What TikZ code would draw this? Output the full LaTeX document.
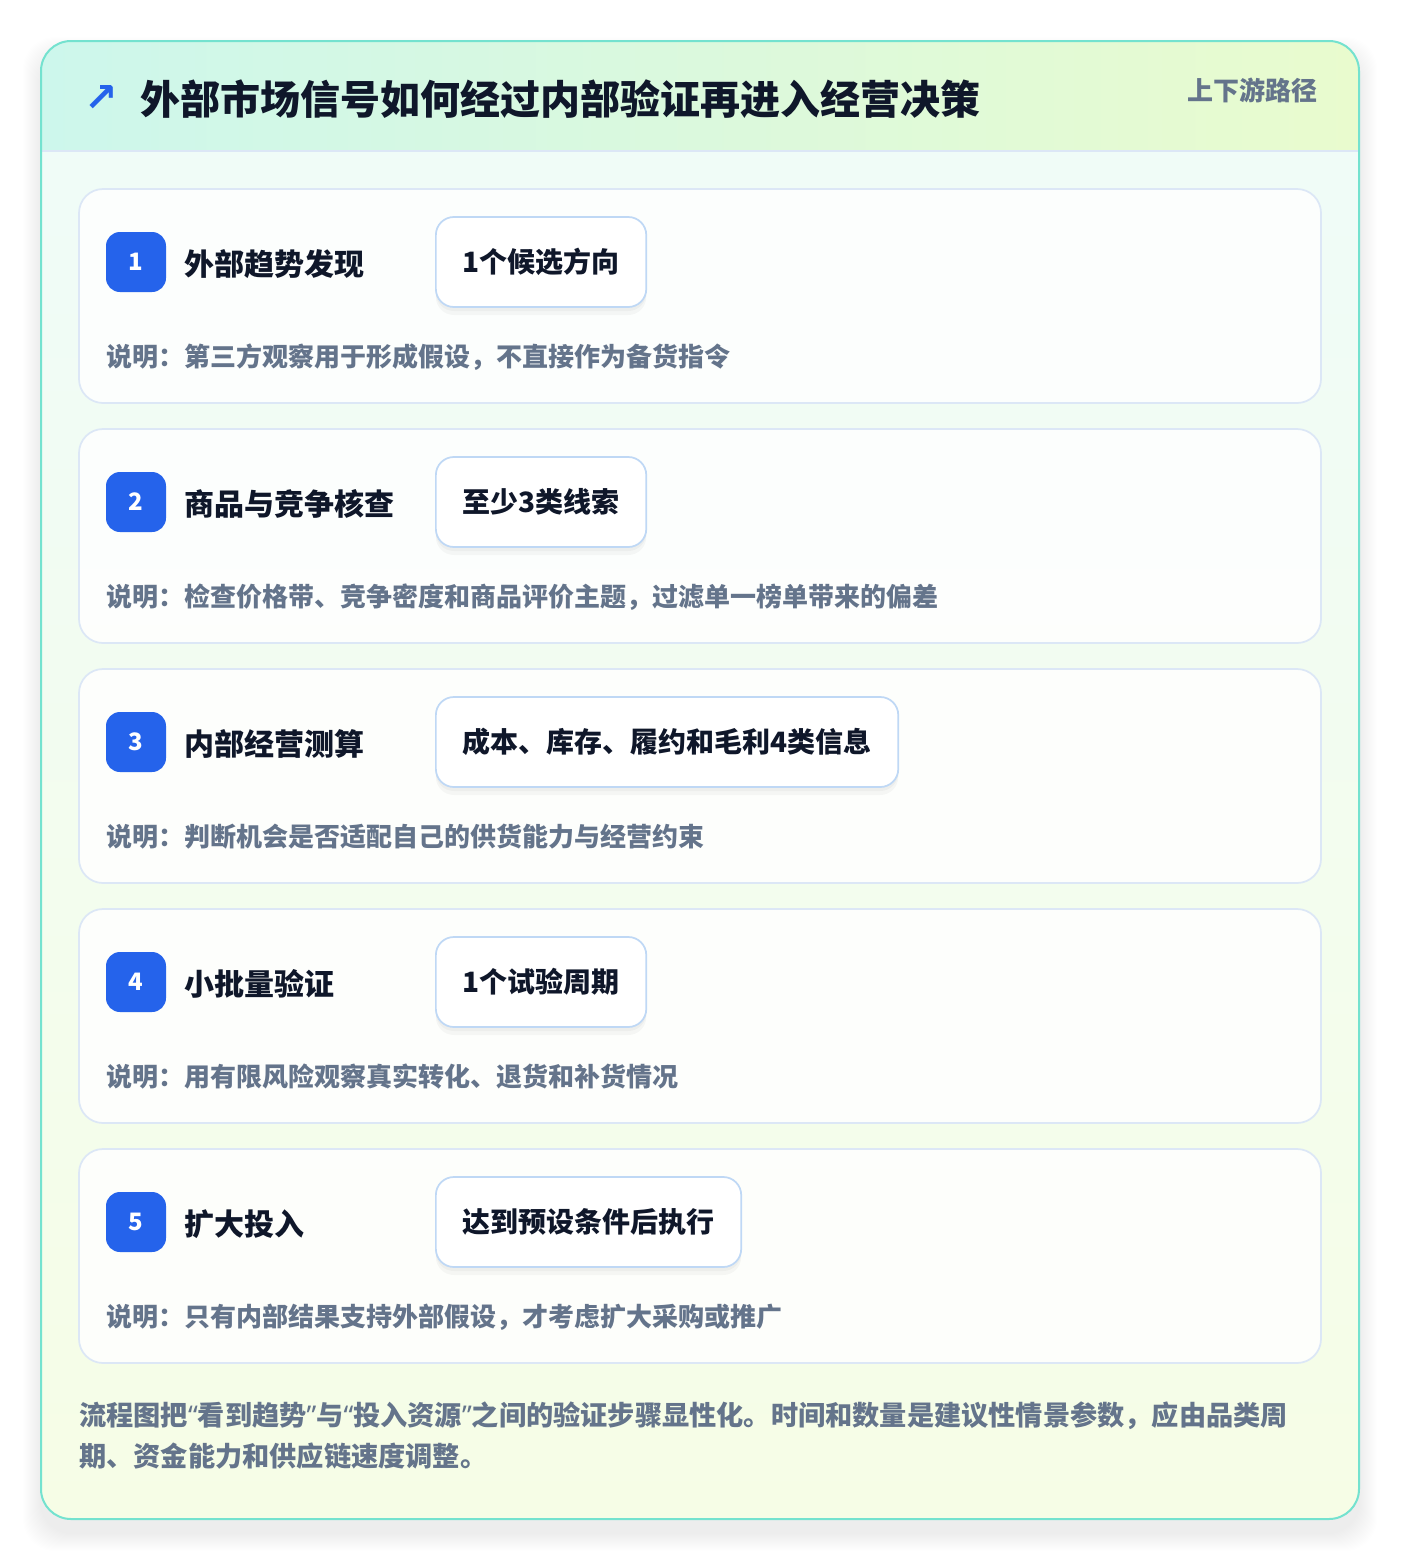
\documentclass[tikz,border=0pt]{standalone}
\usepackage{fontspec}
\setmainfont{Noto Sans CJK SC}
\newfontfamily\arrowfont{DejaVu Sans}
\newfontfamily\quotefont{Noto Sans}
\usetikzlibrary{shadows}

\definecolor{brandblue}{HTML}{2563EB}
\definecolor{inkdark}{HTML}{0F172A}
\definecolor{inkgray}{HTML}{64748B}
\definecolor{frameteal}{HTML}{74E2CF}
\definecolor{headmint}{HTML}{CDF7EC}
\definecolor{headlime}{HTML}{E9FBCE}
\definecolor{bodytop}{HTML}{EFFCF9}
\definecolor{bodybottom}{HTML}{F6FDE6}
\definecolor{cardline}{HTML}{DCE7F6}
\definecolor{tagline}{HTML}{BFD8F5}

\newcommand{\openq}{{\quotefont “}}
\newcommand{\closeq}{{\quotefont ”}}

\tikzset{
  card/.style={draw=cardline, line width=1.3pt, fill=white, fill opacity=0.85, rounded corners=18pt},
  badge/.style={fill=brandblue, rounded corners=10.5pt, minimum width=45pt, minimum height=45pt, inner sep=0pt, text=white, font=\bfseries\fontsize{18}{22}\selectfont},
  steptitle/.style={anchor=west, inner sep=0pt, text=inkdark, font=\bfseries\fontsize{22.5}{27}\selectfont},
  tagbox/.style={draw=tagline, line width=1.3pt, fill=white, rounded corners=13.5pt, minimum height=67.5pt, inner xsep=20pt, anchor=west, text=inkdark, font=\bfseries\fontsize{21}{25}\selectfont,
    drop shadow={shadow xshift=0pt, shadow yshift=-6pt, opacity=0.03, fill=black},
    drop shadow={shadow xshift=0pt, shadow yshift=-3pt, opacity=0.03, fill=black}},
  note/.style={anchor=west, inner sep=0pt, text=inkgray, font=\bfseries\fontsize{19.5}{24}\selectfont},
}

\begin{document}
\begin{tikzpicture}[x=0.75pt, y=-0.75pt]
  \useasboundingbox (0,0) rectangle (1400,1560);
  \fill[white] (0,0) rectangle (1400,1560);
  % soft shadow of the frame
  \foreach \s in {1,...,18}
    \fill[black, opacity=0.0045, rounded corners=24pt] (41-\s,41-\s+14) rectangle (1359+\s,1519+\s+14);
  % frame and header
  \begin{scope}
    \clip[rounded corners=22.5pt] (41,41) rectangle (1359,1519);
    \shade[top color=bodytop, bottom color=bodybottom] (41,41) rectangle (1359,1519);
    \shade[left color=headmint, right color=headlime] (41,41) rectangle (1359,151);
    \draw[cardline, line width=1.3pt] (41,151) -- (1359,151);
  \end{scope}
  \draw[frameteal, line width=1.5pt, rounded corners=22.5pt] (41,41) rectangle (1359,1519);

  \node[text=brandblue, font=\arrowfont\bfseries\fontsize{30}{34}\selectfont] (icon) at (101,98) {↗};
  \node[anchor=west, inner sep=0pt, text=inkdark, font=\bfseries\fontsize{30}{36}\selectfont] (title) at (140,99) {外部市场信号如何经过内部验证再进入经营决策};
  \node[anchor=east, inner sep=0pt, text=inkgray, font=\bfseries\fontsize{19.5}{24}\selectfont] (tagline) at (1318,90) {上下游路径};

  % steps
  \foreach \n/\ttl/\tagtext/\notetext [count=\k from 0] in {
    1/外部趋势发现/1个候选方向/{说明：第三方观察用于形成假设，不直接作为备货指令},
    2/商品与竞争核查/至少3类线索/{说明：检查价格带、竞争密度和商品评价主题，过滤单一榜单带来的偏差},
    3/内部经营测算/{成本、库存、履约和毛利4类信息}/{说明：判断机会是否适配自己的供货能力与经营约束},
    4/小批量验证/1个试验周期/{说明：用有限风险观察真实转化、退货和补货情况},
    5/扩大投入/达到预设条件后执行/{说明：只有内部结果支持外部假设，才考虑扩大采购或推广}}{
    \pgfmathsetmacro{\cardtop}{189+240*\k}
    \path[card] (79,\cardtop) rectangle (1321,\cardtop+214);
    \node[badge] (badge\n) at (136,\cardtop+73) {\n};
    \node[steptitle] (title\n) at (184,\cardtop+75) {\ttl};
    \node[tagbox] (tag\n) at (435,\cardtop+73) {\tagtext};
    \node[note] (note\n) at (106,\cardtop+168) {\notetext};
  }

  \node[anchor=west, align=left, inner sep=0pt, text=inkgray, font=\bfseries\fontsize{20.4}{30.75}\selectfont] (footnote) at (79,1436)
    {流程图把\openq 看到趋势\closeq 与\openq 投入资源\closeq 之间的验证步骤显性化。时间和数量是建议性情景参数，应由品类周\\期、资金能力和供应链速度调整。};
\end{tikzpicture}
\end{document}
